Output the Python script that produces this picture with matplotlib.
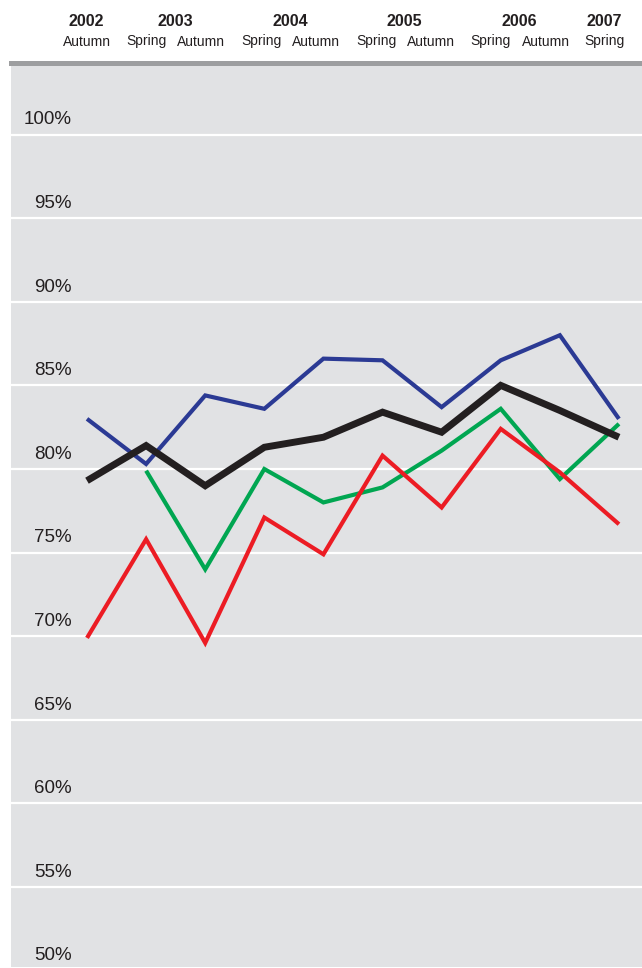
import numpy as np
import matplotlib
matplotlib.use("Agg")
import matplotlib.pyplot as plt
import matplotlib.transforms as mtransforms

plt.rcParams['font.family'] = ['Liberation Sans', 'DejaVu Sans']

# Survey waves, Autumn 2002 to Spring 2007
years = ["2002", "2003", "2004", "2005", "2006", "2007"]
seasons = ["Autumn", "Spring", "Autumn", "Spring", "Autumn",
           "Spring", "Autumn", "Spring", "Autumn", "Spring"]

blue = [83.0, 80.3, 84.4, 83.6, 86.6, 86.5, 83.7, 86.5, 88.0, 83.0]
black = [79.3, 81.4, 79.0, 81.3, 81.9, 83.4, 82.2, 85.0, 83.5, 81.9]
green = [np.nan, 79.9, 74.0, 80.0, 78.0, 78.9, 81.1, 83.6, 79.4, 82.7]
red = [69.9, 75.8, 69.6, 77.1, 74.9, 80.8, 77.7, 82.4, 79.8, 76.7]

y_ticks = [50, 55, 60, 65, 70, 75, 80, 85, 90, 95, 100]

W, H = 642, 968
fig = plt.figure(figsize=(W / 100, H / 100), dpi=100)
fig.patch.set_facecolor("white")

left_px, right_px, top_px, bottom_px = 11, 642, 63.3, 966.7
ax = fig.add_axes([left_px / W, 1 - bottom_px / H,
                   (right_px - left_px) / W, (bottom_px - top_px) / H])
ax.set_facecolor("#e1e2e4")

x = np.arange(len(seasons))
ax.set_xlim(-1.286, 9.39)
ax.set_ylim(50.24, 104.26)

# white horizontal gridlines
for v in y_ticks:
    ax.axhline(v, color="white", lw=1.6, zorder=1)

line_kw = dict(solid_capstyle="butt", solid_joinstyle="miter", zorder=3)
ax.plot(x, blue, color="#2b3a94", lw=3.0, **line_kw)
ax.plot(x, green, color="#00a651", lw=3.0, **line_kw)
ax.plot(x, red, color="#ec1c24", lw=3.0, **line_kw)
ax.plot(x, black, color="#231f20", lw=5.0, zorder=4,
        solid_capstyle="butt", solid_joinstyle="miter")

# percentage labels sit just above their gridline, right edge at a fixed pixel column
label_tf = mtransforms.blended_transform_factory(
    mtransforms.IdentityTransform(), ax.transData)
for v in y_ticks:
    ax.text(72, v + 0.88, f"{v}%", ha="right", va="center",
            fontsize=13.5, color="#231f20", transform=label_tf, zorder=5)

ax.set_xticks([])
ax.set_yticks([])
for side in ["left", "right", "bottom"]:
    ax.spines[side].set_visible(False)
ax.spines["top"].set_color("#9d9ea0")
ax.spines["top"].set_linewidth(3.6)

# header: years and seasons
year_px = [86, 175, 290, 404, 519, 604]
season_px = [87, 146, 201, 261, 316, 376, 431, 490, 546, 604]
for label, px in zip(years, year_px):
    fig.text(px / W, 1 - 21 / H, label, ha="center", va="center",
             fontsize=11.5, fontweight="bold", color="#231f20")
for label, px in zip(seasons, season_px):
    fig.text(px / W, 1 - 41.5 / H, label, ha="center", va="center",
             fontsize=10, color="#231f20")

fig.savefig("out.png", dpi=100, facecolor="white")
